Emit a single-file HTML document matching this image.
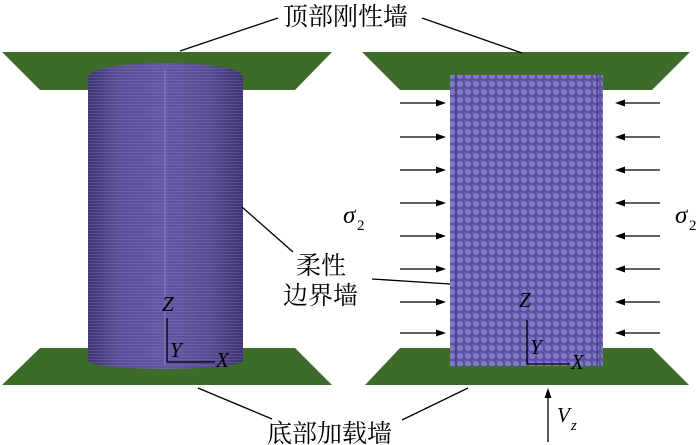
<!DOCTYPE html>
<html><head><meta charset="utf-8"><style>
html,body{margin:0;padding:0;background:#fff;}
svg{display:block;}
text{font-family:"Liberation Serif","Noto Serif CJK SC",serif;}
</style></head><body>
<svg width="700" height="445" viewBox="0 0 700 445" xmlns="http://www.w3.org/2000/svg">
<defs>
<linearGradient id="cyl" x1="0" x2="1" y1="0" y2="0">
<stop offset="0" stop-color="#3f3570"/><stop offset="0.2" stop-color="#5a4f98"/>
<stop offset="0.5" stop-color="#6258a2"/><stop offset="0.8" stop-color="#554a90"/>
<stop offset="1" stop-color="#3c326c"/></linearGradient>
<pattern id="bub" width="8" height="8" patternUnits="userSpaceOnUse">
<rect width="8" height="8" fill="#5a519f"/>
<circle cx="4" cy="4" r="3.1" fill="#8079c6"/>
<circle cx="0" cy="0" r="1.5" fill="#746dbb"/>
</pattern>
<pattern id="lines" width="4" height="3" patternUnits="userSpaceOnUse">
<rect y="2" width="4" height="1" fill="#8b82c8" opacity="0.3"/>
</pattern>
</defs>
<polygon points="2,52 332,52 295,90 40,90" fill="#3d6b2a"/>
<polygon points="362,52 690,52 652,90 400,90" fill="#3d6b2a"/>
<polygon points="40,348 295,348 332,385 2,385" fill="#3d6b2a"/>
<polygon points="400,348 652,348 689,385 365,385" fill="#3d6b2a"/>
<path d="M88,78 Q88,64 165,63 Q243,64 243,78 L243,360 Q243,368 165,369 Q88,368 88,360 Z" fill="url(#cyl)"/>
<path d="M88,78 Q88,64 165,63 Q243,64 243,78 L243,360 Q243,368 165,369 Q88,368 88,360 Z" fill="url(#lines)"/>
<line x1="165" y1="70" x2="165" y2="365" stroke="#a9a2e0" stroke-width="1" opacity="0.5"/>
<rect x="450" y="75" width="153" height="291" fill="url(#bub)"/>
<line x1="456" y1="75" x2="456" y2="366" stroke="#463e85" stroke-width="1.5"/>
<line x1="597" y1="75" x2="597" y2="366" stroke="#463e85" stroke-width="1.5"/>
<g stroke="#000" stroke-width="1.3">
<line x1="400" y1="103" x2="438" y2="103"/><line x1="400" y1="137" x2="438" y2="137"/>
<line x1="400" y1="170" x2="438" y2="170"/><line x1="400" y1="203" x2="438" y2="203"/>
<line x1="400" y1="236" x2="438" y2="236"/><line x1="400" y1="269" x2="438" y2="269"/>
<line x1="400" y1="302" x2="438" y2="302"/><line x1="400" y1="333" x2="438" y2="333"/>
<line x1="622" y1="103" x2="660" y2="103"/><line x1="622" y1="137" x2="660" y2="137"/>
<line x1="622" y1="170" x2="660" y2="170"/><line x1="622" y1="203" x2="660" y2="203"/>
<line x1="622" y1="236" x2="660" y2="236"/><line x1="622" y1="269" x2="660" y2="269"/>
<line x1="622" y1="302" x2="660" y2="302"/><line x1="622" y1="333" x2="660" y2="333"/>
</g>
<g fill="#000">
<polygon points="446,103 436,99.5 436,106.5"/><polygon points="446,137 436,133.5 436,140.5"/>
<polygon points="446,170 436,166.5 436,173.5"/><polygon points="446,203 436,199.5 436,206.5"/>
<polygon points="446,236 436,232.5 436,239.5"/><polygon points="446,269 436,265.5 436,272.5"/>
<polygon points="446,302 436,298.5 436,305.5"/><polygon points="446,333 436,329.5 436,336.5"/>
<polygon points="615,103 625,99.5 625,106.5"/><polygon points="615,137 625,133.5 625,140.5"/>
<polygon points="615,170 625,166.5 625,173.5"/><polygon points="615,203 625,199.5 625,206.5"/>
<polygon points="615,236 625,232.5 625,239.5"/><polygon points="615,269 625,265.5 625,272.5"/>
<polygon points="615,302 625,298.5 625,305.5"/><polygon points="615,333 625,329.5 625,336.5"/>
<polygon points="548,388 544.5,398 551.5,398"/>
</g>
<line x1="548" y1="396" x2="548" y2="442" stroke="#000" stroke-width="1.3"/>
<g stroke="#000" stroke-width="1.3" fill="none">
<line x1="278" y1="18" x2="180" y2="51"/>
<line x1="422" y1="18" x2="522" y2="53"/>
<line x1="242" y1="207" x2="293" y2="252"/>
<line x1="372" y1="279" x2="450" y2="284"/>
<line x1="198" y1="388" x2="272" y2="419"/>
<line x1="468" y1="388" x2="402" y2="420"/>
<polyline points="167,318 167,362 215,362"/>
<polyline points="527,320 527,364 570,364"/>
</g>
<g font-style="italic" font-size="21" fill="#000">
<text x="162" y="311">Z</text><text x="170" y="357">Y</text><text x="216" y="367">X</text>
<text x="519" y="307">Z</text><text x="530" y="354">Y</text><text x="571" y="369">X</text>
<text x="557" y="422">V</text>
</g>
<g font-style="italic" font-size="25" fill="#000">
<text x="343" y="223">σ</text><text x="675" y="223">σ</text>
</g>
<g font-size="15" fill="#000">
<text x="357" y="230">2</text><text x="689" y="230">2</text>
<text font-style="italic" x="571" y="430">z</text>
</g>
<g font-size="25" fill="#000">
<text x="283" y="25">顶部刚性墙</text>
<text x="296" y="274">柔性</text>
<text x="283" y="304">边界墙</text>
<text x="267" y="442">底部加载墙</text>
</g>
</svg>
</body></html>
